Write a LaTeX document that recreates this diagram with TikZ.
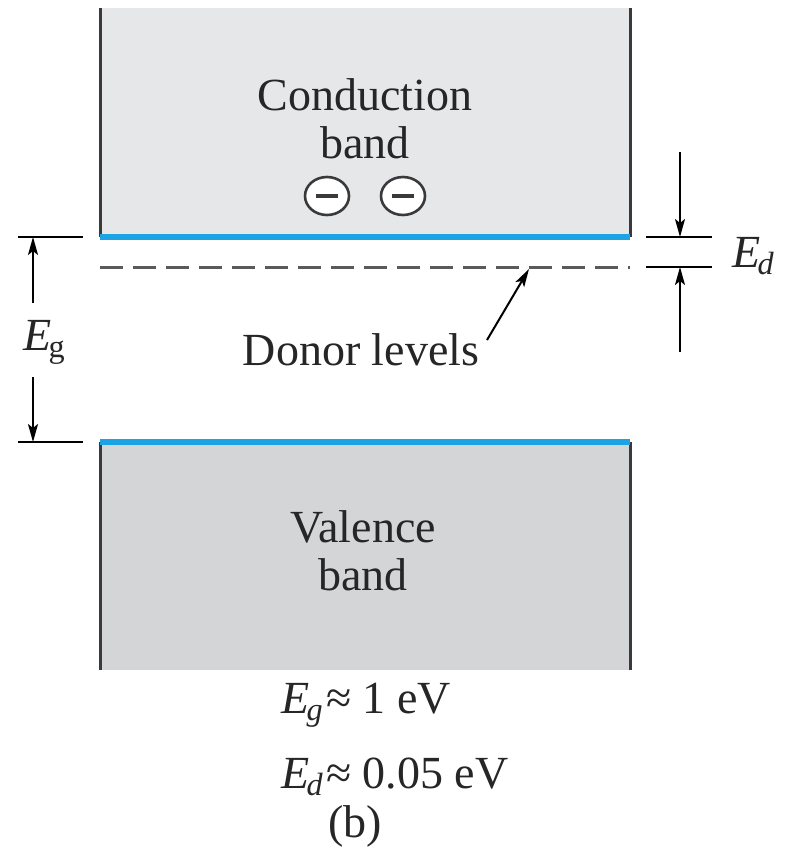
\documentclass[tikz,border=0pt]{standalone}
\usepackage{amsmath}
\usepackage{fontspec}
\setmainfont{Liberation Serif}
\usetikzlibrary{arrows.meta,shapes.geometric}
\definecolor{cblue}{HTML}{1BA3E4}
\definecolor{cband}{HTML}{E6E7E8}
\definecolor{cvband}{HTML}{D4D5D7}
\definecolor{cedge}{HTML}{3A3A3C}
\definecolor{cdash}{HTML}{5A5A5A}
\newcommand{\En}[1]{\textit{E}\kern-0.06em\textsubscript{#1}}

\begin{document}
\begin{tikzpicture}[x=0.5pt, y=-0.5pt, font=\fontsize{23}{24}\selectfont,
  edge/.style={draw=cedge, line width=1.5pt},
  lvl/.style={draw=cblue, line width=2.6pt},
  tick/.style={draw=black, line width=1pt},
  arr/.style={draw=black, line width=1pt, -{Stealth[length=9pt, width=5pt, inset=2pt]}},
  elec/.style={ellipse, draw=cedge, line width=1.3pt, fill=white,
    minimum width=22pt, minimum height=19pt, inner sep=0pt,
    path picture={\draw[cedge, line width=1.7pt]
      ([xshift=-5.5pt]path picture bounding box.center) --
      ([xshift=5.5pt]path picture bounding box.center);}},
  lbl/.style={inner sep=0pt, text=black!85}]

\useasboundingbox (0,0) rectangle (792,863);
\fill[white] (0,0) rectangle (792,863);

% conduction band
\fill[cband] (100,8) rectangle (630,237);
\coordinate (ctl) at (100,8);   \coordinate (cbl) at (100,237);
\coordinate (ctr) at (630,8);   \coordinate (cbr) at (630,237);
\draw[edge] (ctl) -- (cbl);
\draw[edge] (ctr) -- (cbr);
\draw[lvl] (cbl) -- (cbr);
\node[lbl, align=center] (cond) at (365,119) {Conduction\\band};
\node[elec] (e1) at (327,196) {};
\node[elec] (e2) at (403,196) {};

% donor levels
\coordinate (dl) at (100,267); \coordinate (dr) at (630,267);
\draw[cdash, line width=1.5pt, dash pattern=on 11.5pt off 5pt] (dl) -- (dr);

% valence band
\fill[cvband] (100,442) rectangle (630,670);
\coordinate (vtl) at (100,442); \coordinate (vbl) at (100,670);
\coordinate (vtr) at (630,442); \coordinate (vbr) at (630,670);
\draw[edge] (vtl) -- (vbl);
\draw[edge] (vtr) -- (vbr);
\draw[lvl] (vtl) -- (vtr);
\node[lbl, align=center] (val) at (363,551) {Valence\\band};

% gap E_g on the left
\coordinate (gt1) at (18,237);  \coordinate (gt2) at (83,237);
\coordinate (gb1) at (18,442);  \coordinate (gb2) at (83,442);
\draw[tick] (gt1) -- (gt2);
\draw[tick] (gb1) -- (gb2);
\node[lbl, anchor=base west] (eg) at (23,350) {\textit{E}\kern-0.06em\textsubscript{g}};
\coordinate (gu) at (33,303);   \coordinate (gd) at (33,377);
\draw[arr] (gu) -- (33,237);
\draw[arr] (gd) -- (33,442);

% donor depth E_d on the right
\coordinate (dt1) at (646,237); \coordinate (dt2) at (712,237);
\coordinate (db1) at (646,267); \coordinate (db2) at (712,267);
\draw[tick] (dt1) -- (dt2);
\draw[tick] (db1) -- (db2);
\coordinate (du) at (680,152);  \coordinate (dd) at (680,352);
\draw[arr] (du) -- (680,237);
\draw[arr] (dd) -- (680,267);
\node[lbl, anchor=base west] (ed) at (732,267) {\En{\textit{d}}};

\node[lbl, anchor=base] (donor) at (361,365) {Donor levels};
\coordinate (dtip) at (529,269);
\draw[arr] (487,340) -- (dtip);

% values
\node[lbl, anchor=base west] (vg) at (281,713) {\En{\textit{g}}\kern0.05em≈ 1 eV};
\node[lbl, anchor=base west] (vd) at (281,788) {\En{\textit{d}}\kern0.05em≈ 0.05 eV};
\node[lbl, anchor=base] (cap) at (355,837) {(b)};
\end{tikzpicture}
\end{document}
